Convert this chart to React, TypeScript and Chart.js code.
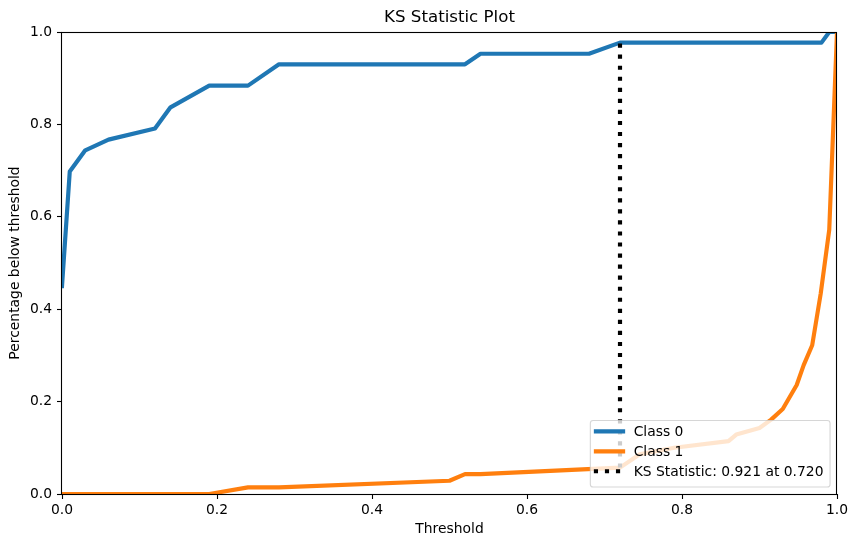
import React, { useEffect, useRef } from "react";
import { Chart, registerables } from "chart.js";

Chart.register(...registerables);

// ---- Data ----
const class0Thresholds = [0, 0.01, 0.03, 0.06, 0.12, 0.14, 0.19, 0.24, 0.28, 0.52, 0.54, 0.68, 0.72, 0.98, 0.99, 1.0];
const class0Values = [0.45, 0.698, 0.744, 0.767, 0.791, 0.837, 0.884, 0.884, 0.93, 0.93, 0.953, 0.953, 0.977, 0.977, 1.0, 1.0];

const class1Thresholds = [0, 0.19, 0.24, 0.28, 0.5, 0.52, 0.54, 0.72, 0.745, 0.79, 0.86, 0.87, 0.9, 0.915, 0.93, 0.948, 0.957, 0.968, 0.979, 0.99, 1.0];
const class1Values = [0, 0, 0.0143, 0.0143, 0.0286, 0.0429, 0.0429, 0.0571, 0.0857, 0.1, 0.1143, 0.1286, 0.1429, 0.161, 0.184, 0.236, 0.279, 0.322, 0.434, 0.572, 1.0];

const ksThreshold = 0.72;
const ksStatistic = 0.921;
const ksLower = 0.0571;
const ksUpper = 0.977;

const xTicks = [0, 0.2, 0.4, 0.6, 0.8, 1.0];
const yTicks = [0, 0.2, 0.4, 0.6, 0.8, 1.0];

const seriesLabels = ["Class 0", "Class 1"];
const chartTitle = "KS Statistic Plot";
const xLabel = "Threshold";
const yLabel = "Percentage below threshold";

const FS = 13.89;
const FONT = "DejaVu Sans";
const LW = 4.17;

const framePlugin = {
  id: "mplFrame",
  afterDatasetsDraw(chart: any) {
    const { ctx, chartArea: a } = chart;
    ctx.save();
    ctx.strokeStyle = "#000";
    ctx.lineWidth = 1.1;
    ctx.setLineDash([]);
    const l = Math.round(a.left) - 0.5;
    const r = Math.round(a.right) - 0.5;
    const t = Math.round(a.top) + 0.5;
    const b = Math.round(a.bottom) + 0.5;
    ctx.strokeRect(l, t, r - l, b - t);
    ctx.restore();
  },
};

const legendPlugin = {
  id: "mplLegend",
  afterDraw(chart: any) {
    const { ctx, chartArea: a } = chart;
    const items = chart.data.datasets.map((ds: any) => ({
      label: ds.label,
      color: ds.borderColor,
      dash: ds.borderDash || [],
      width: ds.borderWidth,
    }));
    ctx.save();
    ctx.font = `${FS}px "${FONT}"`;
    const textW = Math.max(...items.map((it: any) => ctx.measureText(it.label).width));
    const right = a.right - 0.5 * FS;
    const bottom = a.bottom - 0.5 * FS;
    const width = 43.3 + textW + 6.6;
    const left = right - width;
    const rowGap = 19.9;
    const lastRow = bottom - 15.8;
    const firstRow = lastRow - (items.length - 1) * rowGap;
    const top = firstRow - 11;
    const r = 2.8;
    ctx.beginPath();
    ctx.moveTo(left + r, top);
    ctx.lineTo(right - r, top);
    ctx.quadraticCurveTo(right, top, right, top + r);
    ctx.lineTo(right, bottom - r);
    ctx.quadraticCurveTo(right, bottom, right - r, bottom);
    ctx.lineTo(left + r, bottom);
    ctx.quadraticCurveTo(left, bottom, left, bottom - r);
    ctx.lineTo(left, top + r);
    ctx.quadraticCurveTo(left, top, left + r, top);
    ctx.closePath();
    ctx.fillStyle = "rgba(255,255,255,0.8)";
    ctx.fill();
    ctx.strokeStyle = "rgba(204,204,204,0.8)";
    ctx.lineWidth = 1.1;
    ctx.stroke();

    items.forEach((it: any, i: number) => {
      const y = firstRow + i * rowGap;
      ctx.beginPath();
      ctx.setLineDash(it.dash);
      ctx.lineCap = "butt";
      ctx.strokeStyle = it.color;
      ctx.lineWidth = it.width;
      ctx.moveTo(left + 3.5, y);
      ctx.lineTo(left + 34.8, y);
      ctx.stroke();
      ctx.setLineDash([]);
      ctx.fillStyle = "#000";
      ctx.textAlign = "left";
      ctx.textBaseline = "alphabetic";
      ctx.fillText(it.label, left + 43.3, y + 5);
    });
    ctx.restore();
  },
};

export default function App() {
  const canvasRef = useRef<HTMLCanvasElement | null>(null);

  useEffect(() => {
    if (!canvasRef.current) return;
    Chart.defaults.font.family = FONT;
    Chart.defaults.color = "#000";

    const chart = new Chart(canvasRef.current, {
      type: "line",
      data: {
        datasets: [
          {
            label: seriesLabels[0],
            data: class0Thresholds.map((x, i) => ({ x, y: class0Values[i] })),
            borderColor: "#1f77b4",
            borderWidth: LW,
            pointRadius: 0,
            tension: 0,
            fill: false,
            clip: 0,
            borderJoinStyle: "round",
            borderCapStyle: "square",
            order: 2,
          },
          {
            label: seriesLabels[1],
            data: class1Thresholds.map((x, i) => ({ x, y: class1Values[i] })),
            borderColor: "#ff7f0e",
            borderWidth: LW,
            pointRadius: 0,
            tension: 0,
            fill: false,
            clip: 0,
            borderJoinStyle: "round",
            borderCapStyle: "square",
            order: 1,
          },
          {
            label: `KS Statistic: ${ksStatistic.toFixed(3)} at ${ksThreshold.toFixed(3)}`,
            data: [
              { x: ksThreshold, y: ksLower },
              { x: ksThreshold, y: ksUpper },
            ],
            borderColor: "#000000",
            borderWidth: LW,
            borderDash: [LW, LW * 1.65],
            borderCapStyle: "butt",
            pointRadius: 0,
            tension: 0,
            fill: false,
            clip: 0,
            order: 0,
          },
        ] as any,
      },
      options: {
        animation: false,
        responsive: false,
        maintainAspectRatio: false,
        devicePixelRatio: 1,
        layout: { padding: { left: 0, right: 20, top: 0, bottom: 0 } },
        plugins: {
          legend: { display: false },
          tooltip: { enabled: false },
          title: {
            display: true,
            text: chartTitle,
            fullSize: false,
            color: "#000",
            font: { size: 16.67, weight: "normal", family: FONT },
            padding: { top: 8, bottom: 4 },
          },
        },
        scales: {
          x: {
            type: "linear",
            min: 0,
            max: 1,
            afterBuildTicks: (s: any) => {
              s.ticks = xTicks.map((v) => ({ value: v }));
            },
            ticks: {
              autoSkip: false,
              maxRotation: 0,
              padding: 3,
              color: "#000",
              font: { size: FS, family: FONT },
              callback: (v: any) => Number(v).toFixed(1),
            },
            grid: {
              display: true,
              drawOnChartArea: false,
              drawTicks: true,
              tickLength: 5,
              tickWidth: 1.1,
              tickColor: "#000",
            },
            border: { display: false },
            title: {
              display: true,
              text: xLabel,
              color: "#000",
              font: { size: FS, family: FONT },
              padding: { top: 0, bottom: 9 },
            },
            afterFit: (s: any) => {
              s.height = 53;
            },
          },
          y: {
            type: "linear",
            min: 0,
            max: 1,
            afterBuildTicks: (s: any) => {
              s.ticks = yTicks.map((v) => ({ value: v }));
            },
            ticks: {
              autoSkip: false,
              padding: 5,
              color: "#000",
              font: { size: FS, family: FONT },
              callback: (v: any) => Number(v).toFixed(1),
            },
            grid: {
              display: true,
              drawOnChartArea: false,
              drawTicks: true,
              tickLength: 5,
              tickWidth: 1.1,
              tickColor: "#000",
            },
            border: { display: false },
            title: {
              display: true,
              text: yLabel,
              color: "#000",
              font: { size: FS, family: FONT },
              padding: { top: 7.5, bottom: 0 },
            },
            afterFit: (s: any) => {
              s.width = 62;
            },
          },
        },
      } as any,
      plugins: [framePlugin, legendPlugin],
    });

    return () => chart.destroy();
  }, []);

  return (
    <div style={{ position: "absolute", left: 0, top: 0, width: 857, height: 547, background: "#fff" }}>
      <canvas ref={canvasRef} width={857} height={547} style={{ display: "block" }} />
    </div>
  );
}
